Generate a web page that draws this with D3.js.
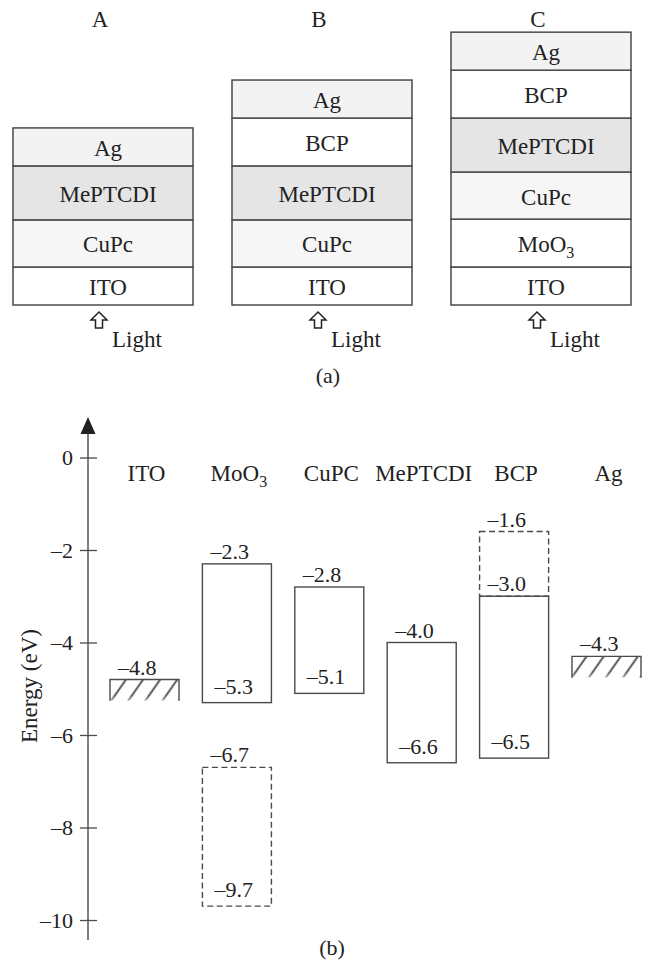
<!DOCTYPE html>
<html><head><meta charset="utf-8">
<script src="https://cdn.jsdelivr.net/npm/d3@7/dist/d3.min.js"></script>
<style>
html,body{margin:0;padding:0;background:#fff;}
text{font-family:"Liberation Serif","DejaVu Serif",serif;fill:#222;}
</style></head>
<body>
<svg id="chart" width="647" height="962"></svg>
<script>
// ---------- data: (a) device stacks ----------
const stackNames = ["A", "B", "C"];
const stackLayers = [
  ["ITO", "CuPc", "MePTCDI", "Ag"],
  ["ITO", "CuPc", "MePTCDI", "BCP", "Ag"],
  ["ITO", "MoO3", "CuPc", "MePTCDI", "BCP", "Ag"]
];
const layerNames = ["ITO", "MoO3", "CuPc", "MePTCDI", "BCP", "Ag"];
const layerThickness = [1.0, 1.26, 1.24, 1.42, 1.26, 1.0];
const lightLabel = "Light";

// ---------- data: (b) energy levels ----------
const materials = ["ITO", "MoO3", "CuPC", "MePTCDI", "BCP", "Ag"];
const workFnMaterials = ["ITO", "Ag"];
const workFnValues = [-4.8, -4.3];
const bandMaterials = ["MoO3", "CuPC", "MePTCDI", "BCP"];
const bandTop = [-2.3, -2.8, -4.0, -3.0];
const bandBottom = [-5.3, -5.1, -6.6, -6.5];
const dashedMaterials = ["MoO3", "BCP"];
const dashedTop = [-6.7, -1.6];
const dashedBottom = [-9.7, -3.0];
const energyTicks = [0, -2, -4, -6, -8, -10];
const axisTitle = "Energy (eV)";

// ---------- styles ----------
const layerFill = {ITO: "#ffffff", MoO3: "#ffffff", CuPc: "#f6f6f6", MePTCDI: "#e5e5e5", BCP: "#ffffff", Ag: "#f3f3f3"};
const strokeCol = "#4a4a4a";
const fmt = v => (v < 0 ? "\u2013" : "") + Math.abs(v).toFixed(1);
const fmtTick = v => (v < 0 ? "\u2013" : "") + Math.abs(v);

const svg = d3.select("#chart");

function addName(sel, name, subSize) {
  if (name.endsWith("3") && name.startsWith("MoO")) {
    sel.append("tspan").text("MoO");
    sel.append("tspan").attr("font-size", subSize).attr("dy", 6).text("3");
  } else sel.text(name);
}

// ================= (a) =================
const thick = new Map(layerNames.map((n, i) => [n, layerThickness[i]]));
const xStack = d3.scaleBand().domain(stackNames).range([13, 631]).paddingInner(39 / 219).paddingOuter(0);
const yStack = d3.scaleLinear().domain([0, 1]).range([305, 267]);

const gA = svg.append("g");
stackNames.forEach((s, si) => {
  const x0 = xStack(s), w = xStack.bandwidth(), cx = x0 + w / 2;
  let acc = 0;
  const layers = stackLayers[si].map(n => { const o = {name: n, b: acc, t: acc + thick.get(n)}; acc = o.t; return o; });
  const g = gA.append("g");
  g.selectAll("rect").data(layers).join("rect")
    .attr("x", x0).attr("width", w)
    .attr("y", d => yStack(d.t)).attr("height", d => yStack(d.b) - yStack(d.t))
    .attr("fill", d => layerFill[d.name]).attr("stroke", strokeCol).attr("stroke-width", 1.5);
  g.selectAll("text.layer").data(layers).join("text").attr("class", "layer")
    .attr("x", cx + 5).attr("y", d => (yStack(d.b) + yStack(d.t)) / 2 + 9)
    .attr("text-anchor", "middle").attr("font-size", 23)
    .each(function (d) { addName(d3.select(this), d.name, 16); });
  g.append("text").attr("x", cx - 3).attr("y", 27).attr("text-anchor", "middle").attr("font-size", 23).text(s);
  const ax = cx - 4, ay = 312;
  g.append("path")
    .attr("d", `M${ax},${ay} L${ax + 8},${ay + 8} L${ax + 3.5},${ay + 8} L${ax + 3.5},${ay + 16} L${ax - 3.5},${ay + 16} L${ax - 3.5},${ay + 8} L${ax - 8},${ay + 8} Z`)
    .attr("fill", "#fff").attr("stroke", "#222").attr("stroke-width", 1.5).attr("stroke-linejoin", "miter");
  g.append("text").attr("x", ax + 13).attr("y", 347).attr("font-size", 23).text(lightLabel);
});
svg.append("text").attr("x", 328).attr("y", 383).attr("text-anchor", "middle").attr("font-size", 22).text("(a)");

// ================= (b) =================
const y = d3.scaleLinear().domain([0, -10]).range([457.5, 920]);
const x = d3.scaleBand().domain(materials).range([110, 641]).paddingInner(0.253).paddingOuter(0);
const bw = x.bandwidth();
const axisX = 88;

const defs = svg.append("defs");
const pat = defs.append("pattern").attr("id", "hatch").attr("patternUnits", "userSpaceOnUse")
  .attr("width", 14).attr("height", 14).attr("patternTransform", "rotate(35)");
pat.append("line").attr("x1", 3).attr("x2", 3).attr("y1", 0).attr("y2", 14)
  .attr("stroke", "#666").attr("stroke-width", 2.2);
const grad = defs.append("linearGradient").attr("id", "fade").attr("x1", 0).attr("x2", 0).attr("y1", 0).attr("y2", 1);
grad.append("stop").attr("offset", "0").attr("stop-color", "#fff").attr("stop-opacity", 1);
grad.append("stop").attr("offset", "0.75").attr("stop-color", "#fff").attr("stop-opacity", 1);
grad.append("stop").attr("offset", "1").attr("stop-color", "#fff").attr("stop-opacity", 0.5);
const mask = defs.append("mask").attr("id", "fadeMask").attr("maskContentUnits", "objectBoundingBox");
mask.append("rect").attr("x", 0).attr("y", 0).attr("width", 1).attr("height", 1).attr("fill", "url(#fade)");

const axis = d3.axisLeft(y).tickValues(energyTicks).tickFormat(fmtTick).tickSizeInner(8).tickSizeOuter(0).tickPadding(7);
const gAx = svg.append("g").attr("transform", `translate(${axisX},0)`).call(axis);
gAx.select(".domain").remove();
gAx.selectAll(".tick line").attr("x1", -8).attr("x2", 9).attr("stroke", strokeCol).attr("stroke-width", 1.3);
gAx.selectAll(".tick text").attr("font-family", "Liberation Serif, serif").attr("font-size", 22).attr("fill", "#222");
gAx.append("line").attr("x1", 0).attr("x2", 0).attr("y1", 430).attr("y2", 940).attr("stroke", strokeCol).attr("stroke-width", 1.4);
gAx.append("path").attr("d", "M0,417 L7.5,434 L-7.5,434 Z").attr("fill", "#222");

svg.append("text").attr("transform", `translate(37,686) rotate(-90)`).attr("text-anchor", "middle")
  .attr("font-size", 23).text(axisTitle);

svg.append("g").selectAll("text").data(materials).join("text")
  .attr("x", d => x(d) + bw / 2 + 2).attr("y", 481).attr("text-anchor", "middle").attr("font-size", 23)
  .each(function (d) { addName(d3.select(this), d, 16); });

const solid = bandMaterials.map((m, i) => ({m, t: bandTop[i], b: bandBottom[i]}));
const dashed = dashedMaterials.map((m, i) => ({m, t: dashedTop[i], b: dashedBottom[i]}));
const gB = svg.append("g");
gB.selectAll("rect.solid").data(solid).join("rect").attr("class", "solid")
  .attr("x", d => x(d.m)).attr("width", bw).attr("y", d => y(d.t)).attr("height", d => y(d.b) - y(d.t))
  .attr("fill", "none").attr("stroke", strokeCol).attr("stroke-width", 1.4);
gB.selectAll("rect.dashed").data(dashed).join("rect").attr("class", "dashed")
  .attr("x", d => x(d.m)).attr("width", bw).attr("y", d => y(d.t)).attr("height", d => y(d.b) - y(d.t))
  .attr("fill", "none").attr("stroke", strokeCol).attr("stroke-width", 1.4).attr("stroke-dasharray", "6,3.5");

const wf = workFnMaterials.map((m, i) => ({m, v: workFnValues[i]}));
const hatchDepth = 0.46;
const gW = gB.selectAll("g.wf").data(wf).join("g").attr("class", "wf");
gW.append("rect").attr("x", d => x(d.m)).attr("width", bw).attr("y", d => y(d.v))
  .attr("height", d => y(d.v - hatchDepth) - y(d.v)).attr("fill", "url(#hatch)").attr("mask", "url(#fadeMask)");
gW.append("path").attr("d", d => {
  const x0 = x(d.m), x1 = x0 + bw, t = y(d.v), b = y(d.v - hatchDepth);
  return `M${x0},${b} L${x0},${t} L${x1},${t} L${x1},${b}`;
}).attr("fill", "none").attr("stroke", strokeCol).attr("stroke-width", 1.4);

const allBands = solid.concat(dashed);
const topLabels = allBands.map(d => ({m: d.m, v: d.t})).concat(wf.map(d => ({m: d.m, v: d.v})));
const bottomLabels = allBands.filter(d => !allBands.some(o => o.m === d.m && o.t === d.b)).map(d => ({m: d.m, v: d.b}));
gB.selectAll("text.top").data(topLabels).join("text").attr("class", "top")
  .attr("x", d => x(d.m) + 8).attr("y", d => y(d.v) - 5).attr("font-size", 22).text(d => fmt(d.v));
gB.selectAll("text.bot").data(bottomLabels).join("text").attr("class", "bot")
  .attr("x", d => x(d.m) + 12).attr("y", d => y(d.v) - 9).attr("font-size", 22).text(d => fmt(d.v));

svg.append("text").attr("x", 332).attr("y", 955).attr("text-anchor", "middle").attr("font-size", 22).text("(b)");
</script>
</body></html>
